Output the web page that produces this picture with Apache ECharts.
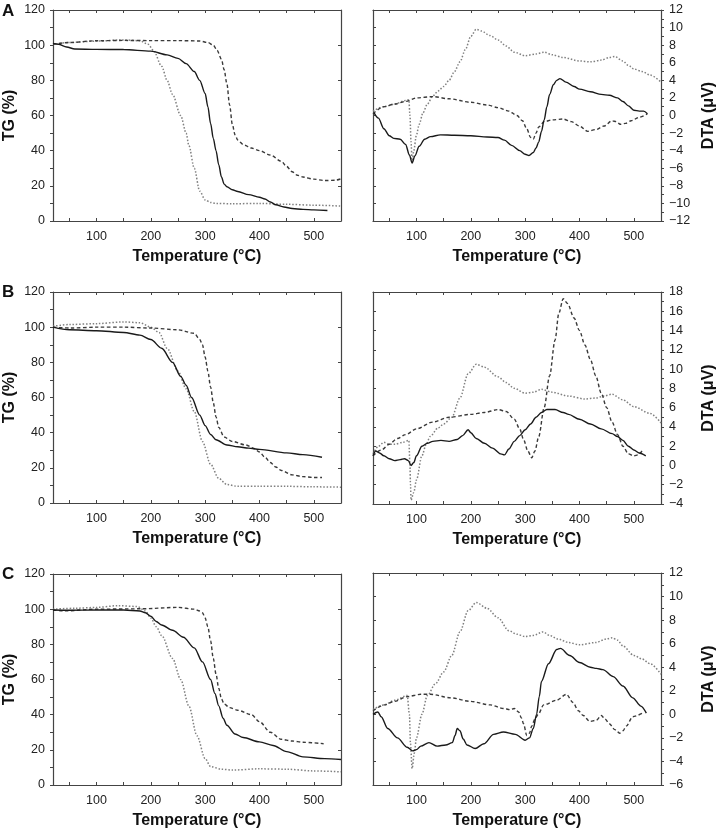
<!DOCTYPE html>
<html>
<head>
<meta charset="utf-8">
<script src="https://cdn.jsdelivr.net/npm/echarts@6/dist/echarts.min.js"></script>
<style>
html,body{margin:0;padding:0;background:#fff;}
#chart{width:718px;height:830px;}
</style>
</head>
<body>
<div id="chart"></div>
<script>
// ---------- data ----------
const xLabelValues = [100, 200, 300, 400, 500];
const xTickValues = [50, 100, 150, 200, 250, 300, 350, 400, 450, 500, 550];
const panelLetters = ['A', 'B', 'C'];
const dtaRanges = [[-12, 12], [-4, 18], [-6, 12]];

// TG (%) panel A
const tgA_solid = [[20,101],[30,100.5],[45,99],[60,97.8],[100,97.6],[150,97.5],[200,96.6],[230,94.5],[250,92.5],[265,89.5],[280,85],[290,80],[300,72.5],[305,65],[310,55.5],[315,47],[320,40],[325,32],[330,25],[335,21],[340,19.5],[350,17.8],[360,16.8],[380,15],[400,13.5],[410,12.5],[420,10.8],[430,9.2],[445,8],[460,7.1],[480,6.6],[500,6.3],[525,6]];
const tgA_dashed = [[20,100.5],[50,101.5],[100,102.5],[150,102.7],[200,102.6],[250,102.6],[290,102.4],[305,101.5],[315,100],[322,97],[330,92],[335,86],[340,78],[345,66],[350,55],[355,49],[360,46],[370,43.5],[385,41.5],[400,40],[420,37.5],[440,34],[450,31],[460,28],[470,26],[480,25],[500,23.8],[520,23],[540,23.2],[550,24]];
const tgA_dotted = [[20,100.5],[50,101.5],[100,102.3],[150,103],[180,102.5],[195,100.5],[205,97],[220,88],[230,80],[240,72],[255,60],[265,50],[270,43],[280,30],[290,17],[300,12],[310,10.5],[320,10],[350,9.8],[400,10],[450,9.5],[500,9],[550,8.5]];
// TG (%) panel B
const tgB_solid = [[20,100],[50,98.5],[100,98],[150,97],[180,95.5],[200,93],[220,88],[240,80],[255,72],[265,67],[275,60],[290,50],[300,44],[310,39],[320,36],[340,33],[360,32],[380,31.2],[400,30.5],[450,28.5],[480,27.5],[515,26]];
const tgB_dashed = [[20,100],[50,99.5],[100,100],[150,100],[200,99.5],[250,98.5],[280,96.5],[290,93],[295,90],[300,83],[305,75],[310,66],[315,57],[320,49],[325,43],[335,37.5],[350,35],[375,33],[390,31],[400,29],[410,26],[420,23],[430,20.5],[440,18.5],[460,16],[480,15],[500,14.5],[515,14.5]];
const tgB_dotted = [[20,100.5],[50,101.5],[100,102],[150,103],[180,102.5],[200,100],[215,97],[230,88],[250,75],[265,65],[280,52],[295,35],[310,22],[325,14],[340,10.5],[360,9.5],[400,9.5],[450,9.5],[500,9.2],[550,9]];
// TG (%) panel C
const tgC_solid = [[20,99.5],[50,99.4],[100,99.5],[150,99.5],[180,99],[190,98],[200,96],[210,93],[220,91],[240,88],[260,84],[280,78],[295,70],[310,60],[318,52],[325,45],[333,38],[340,34],[355,29],[370,27],[400,24.5],[425,22.5],[450,19],[480,16],[520,15],[550,14.5]];
const tgC_dashed = [[20,99.5],[40,99],[100,100],[180,100.2],[250,101],[280,100],[290,99],[295,98],[300,95],[305,90],[310,82],[315,72],[320,63],[325,55],[330,49],[335,46],[345,44],[360,42.5],[385,40],[400,36],[420,30],[440,26],[460,25],[480,24.3],[518,23.5]];
const tgC_dotted = [[20,100],[60,100.5],[100,101],[140,102],[175,101.5],[190,99],[200,95],[210,90],[220,85],[240,72],[255,60],[270,45],[285,28],[300,15],[310,10.5],[330,9],[350,8.5],[400,9.2],[450,9],[500,8],[550,7.5]];

// DTA (µV) panel A
const dtaA_solid = [[22,0.3],[30,-0.3],[40,-1.5],[50,-2.3],[58,-2.6],[70,-2.7],[80,-3.3],[87,-4.5],[92,-5.4],[97,-4.6],[105,-3.5],[115,-2.7],[126,-2.4],[144,-2.2],[170,-2.25],[200,-2.3],[230,-2.45],[250,-2.5],[262,-2.8],[275,-3.4],[290,-4.0],[300,-4.4],[307,-4.55],[315,-4.2],[320,-3.7],[325,-3],[330,-1.8],[335,-0.5],[340,1],[345,2.4],[352,3.5],[358,4.0],[364,4.2],[375,3.8],[390,3.3],[400,3],[420,2.7],[440,2.4],[455,2.3],[470,2.0],[480,1.6],[490,1.1],[500,0.6],[510,0.5],[518,0.5],[525,0.2]];
const dtaA_dashed = [[20,0.2],[40,1],[60,1.3],[80,1.6],[100,2],[130,2.15],[160,1.9],[200,1.5],[230,1.2],[250,0.9],[270,0.5],[285,0],[295,-0.6],[303,-1.5],[310,-2.5],[315,-2.7],[320,-2.0],[325,-1.3],[335,-0.7],[350,-0.5],[370,-0.4],[385,-0.7],[400,-1.2],[415,-1.8],[430,-1.6],[445,-1.2],[460,-0.6],[468,-0.7],[475,-1.0],[485,-0.9],[495,-0.6],[510,-0.2],[525,0.2]];
const dtaA_dotted = [[20,0.5],[40,1],[60,1.3],[80,1.7],[86,1.8],[88,0],[90,-3],[92,-5.3],[95,-4],[100,-2.2],[105,-1],[112,0.3],[120,1.3],[130,2.2],[140,2.8],[150,3.3],[160,4],[170,5],[180,6.1],[190,7.5],[200,9.0],[210,9.8],[220,9.6],[235,9.1],[250,8.6],[265,7.9],[280,7.2],[300,6.8],[320,7.0],[335,7.2],[350,6.9],[370,6.6],[400,6.2],[420,6.1],[440,6.3],[455,6.6],[465,6.7],[480,6.2],[490,5.7],[500,5.3],[515,5],[530,4.6],[550,3.8]];
// DTA (µV) panel B
const dtaB_solid = [[20,1],[25,1.5],[32,1.3],[40,1],[50,0.7],[60,0.5],[70,0.6],[78,0.7],[85,0.5],[90,0],[95,0.3],[100,1],[110,2],[120,2.3],[130,2.5],[145,2.6],[160,2.5],[175,2.7],[185,3.1],[195,3.7],[200,3.4],[210,2.8],[225,2.3],[240,1.8],[255,1.2],[262,1.1],[270,1.7],[280,2.5],[290,3.1],[300,3.7],[310,4.3],[320,5],[330,5.5],[340,5.8],[355,5.8],[370,5.5],[380,5.3],[400,4.8],[420,4.3],[440,3.8],[460,3.3],[470,3],[480,2.6],[490,2],[500,1.6],[510,1.3],[522,1]];
const dtaB_dashed = [[20,1],[35,1.6],[50,2.2],[65,2.8],[80,3.2],[100,3.8],[130,4.5],[160,5.0],[200,5.3],[225,5.5],[250,5.8],[265,5.6],[280,4.8],[290,3.8],[297,2.7],[305,1.5],[312,0.8],[318,1.5],[325,3],[335,6],[345,9.3],[355,13],[362,15.8],[370,17.3],[378,16.8],[390,15.3],[400,14],[410,12.5],[420,11],[430,9.3],[440,7.5],[450,6],[460,4.5],[470,3.2],[480,2],[490,1.2],[500,1],[508,1.1],[515,1.5]];
const dtaB_dotted = [[20,1.2],[30,2.0],[40,2.4],[50,2.2],[60,2.2],[75,2.4],[86,2.6],[88,0],[89,-2],[90,-3.6],[95,-2.8],[100,-1.5],[110,1],[118,2.2],[125,3],[140,3.9],[150,4.3],[165,5],[180,7],[195,9.5],[210,10.5],[225,10.2],[250,9.2],[265,8.6],[280,8],[300,7.5],[315,7.6],[330,7.9],[350,7.6],[380,7.2],[410,6.9],[430,7.0],[445,7.2],[460,7.4],[480,6.8],[500,6.1],[530,5.4],[550,4.4]];
// DTA (µV) panel C
const dtaC_solid = [[20,0],[29,0.2],[35,-0.2],[47,-1.2],[65,-2.0],[83,-2.8],[93,-3.1],[100,-3.0],[108,-2.7],[123,-2.4],[138,-2.7],[154,-2.6],[166,-2.4],[171,-1.8],[175,-1.2],[180,-1.4],[186,-2.1],[193,-2.6],[208,-2.9],[224,-2.5],[242,-1.7],[260,-1.5],[282,-1.7],[300,-2.2],[308,-2.0],[315,-1.2],[321,0],[326,1.5],[330,2.8],[343,4.3],[358,5.5],[365,5.6],[382,5.0],[400,4.4],[420,4.0],[431,3.9],[443,3.8],[462,3.2],[480,2.4],[498,1.4],[513,0.7],[523,0.1]];
const dtaC_dashed = [[20,0.3],[41,0.8],[59,1.1],[83,1.5],[108,1.7],[126,1.7],[163,1.4],[199,1.1],[236,0.8],[260,0.5],[272,0.4],[280,0.5],[288,0.2],[293,-0.3],[297,-0.8],[303,-1.8],[308,-1.6],[312,-1.0],[318,-0.4],[324,0],[334,0.8],[358,1.2],[376,1.7],[388,1.0],[398,0.3],[407,-0.1],[419,-0.6],[431,-0.5],[440,-0.1],[447,-0.4],[455,-0.8],[465,-1.3],[474,-1.6],[480,-1.4],[486,-1.0],[498,-0.2],[516,0.1]];
const dtaC_dotted = [[20,0.4],[40,0.8],[60,1.2],[83,1.6],[87,0],[89,-2.5],[92,-4.6],[96,-3.3],[100,-2.0],[110,0],[120,1.6],[135,2.6],[150,3.6],[165,5],[180,7],[195,8.8],[210,9.5],[230,9.0],[250,8.2],[270,7.1],[285,6.8],[300,6.6],[315,6.7],[333,7.0],[345,6.7],[360,6.4],[380,6.1],[400,5.9],[430,6.1],[450,6.4],[460,6.5],[470,6.3],[480,5.8],[500,5.0],[515,4.7],[530,4.3],[550,3.4]];

const tgSets = [[tgA_solid, tgA_dashed, tgA_dotted],[tgB_solid, tgB_dashed, tgB_dotted],[tgC_solid, tgC_dashed, tgC_dotted]];
const dtaSets = [[dtaA_solid, dtaA_dashed, dtaA_dotted],[dtaB_solid, dtaB_dashed, dtaB_dotted],[dtaC_solid, dtaC_dashed, dtaC_dotted]];

// ---------- layout / style ----------
const FONT = 'Liberation Sans, Arial, sans-serif';
const AX = '#444';
const gridBoxes = [
  {left:53, top:10, width:288, height:211}, {left:373, top:10, width:289, height:211},
  {left:53, top:292, width:288, height:211}, {left:373, top:292, width:289, height:212},
  {left:53, top:574, width:288, height:213}, {left:373, top:573, width:289, height:213}
];
const lineStyles = [
  {color:'#1a1a1a', width:1.4, type:'solid'},
  {color:'#3a3a3a', width:1.4, type:[3.5,2.5]},
  {color:'#808080', width:1.5, type:[1.5,1.8]}
];
const minus = v => String(v).replace('-', '\u2212');

const grid = [], xAxis = [], yAxis = [], series = [];
gridBoxes.forEach((g, i) => {
  grid.push(Object.assign({containLabel:false}, g));
  const isRight = i % 2 === 1;
  const row = Math.floor(i / 2);
  xAxis.push({
    type:'value', gridIndex:i, min:20, max:550, position:'bottom',
    name:'Temperature (\u00B0C)', nameLocation:'middle', nameGap:28,
    nameTextStyle:{fontFamily:FONT, fontSize:16, fontWeight:'bold', color:'#111'},
    axisLine:{show:true, onZero:false, lineStyle:{color:AX, width:1.2}},
    axisTick:{show:true, inside:true, length:3, customValues:xTickValues, lineStyle:{color:AX}},
    axisLabel:{customValues:xLabelValues, margin:9, fontFamily:FONT, fontSize:12.5, color:'#222'},
    splitLine:{show:false}
  });
  xAxis.push({
    type:'value', gridIndex:i, min:20, max:550, position:'top',
    axisLine:{show:true, onZero:false, lineStyle:{color:AX, width:1.2}},
    axisTick:{show:true, inside:true, length:3, customValues:xTickValues, lineStyle:{color:AX}},
    axisLabel:{show:false}, splitLine:{show:false}
  });
  let ymin, ymax, yint, yname, ypos, opp;
  if (!isRight) { ymin = 0; ymax = 120; yint = 20; yname = 'TG (%)'; ypos = 'left'; opp = 'right'; }
  else { ymin = dtaRanges[row][0]; ymax = dtaRanges[row][1]; yint = 2; yname = 'DTA (\u03BCV)'; ypos = 'right'; opp = 'left'; }
  yAxis.push({
    type:'value', gridIndex:i, min:ymin, max:ymax, interval:yint, position:ypos,
    name:yname, nameLocation:'middle', nameGap: isRight ? 40 : 35, nameRotate:90,
    nameTextStyle:{fontFamily:FONT, fontSize:16, fontWeight:'bold', color:'#111'},
    axisLine:{show:true, onZero:false, lineStyle:{color:AX, width:1.2}},
    axisTick:{show:true, inside:false, length:3, lineStyle:{color:AX}},
    minorTick:{show:true, splitNumber:2, length:3, lineStyle:{color:AX}},
    axisLabel:{margin:8, fontFamily:FONT, fontSize:12.5, color:'#222', formatter:minus},
    splitLine:{show:false}
  });
  yAxis.push({
    type:'value', gridIndex:i, min:ymin, max:ymax, interval:yint, position:opp,
    axisLine:{show:true, onZero:false, lineStyle:{color:AX, width:1.2}},
    axisTick:{show:true, inside:true, length:3, lineStyle:{color:AX}},
    axisLabel:{show:false}, splitLine:{show:false}
  });
  const sets = isRight ? dtaSets[row] : tgSets[row];
  sets.forEach((d, k) => {
    series.push({
      type:'line', xAxisIndex:2*i, yAxisIndex:2*i, data:d,
      showSymbol:false, smooth:0.3, smoothMonotone:'x',
      lineStyle:lineStyles[k], z: 3 - k, silent:true
    });
  });
});

const letterTops = [3, 284, 566];
const graphic = panelLetters.map((t, r) => ({
  type:'text', left:2, top:letterTops[r],
  style:{text:t, fontFamily:FONT, fontSize:17, fontWeight:'bold', fill:'#111'}
}));

const chart = echarts.init(document.getElementById('chart'), null, {renderer:'canvas'});
chart.setOption({animation:false, backgroundColor:'#fff', grid, xAxis, yAxis, series, graphic});
</script>
</body>
</html>
